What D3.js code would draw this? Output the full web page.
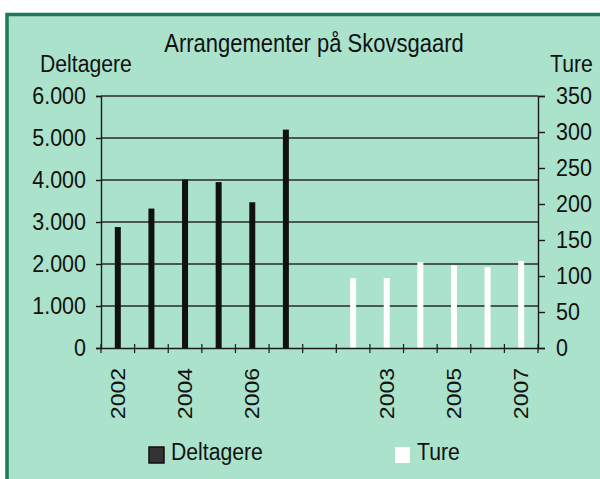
<!DOCTYPE html>
<html>
<head>
<meta charset="utf-8">
<script src="https://cdn.jsdelivr.net/npm/d3@7"></script>
<style>
  body { margin: 0; background: #fff; }
  text { font-family: 'Liberation Sans', Arial, sans-serif; fill: #111; }
</style>
</head>
<body>
<div id="chart"></div>
<script>
var years = ['2002', '2003', '2004', '2005', '2006', '2007'];
var deltagere = [2880, 3320, 4010, 3950, 3470, 5200];
var ture = [97, 97, 119, 115, 112, 121];
var categories = years.concat([''], years);
var left_ticks = [0, 1000, 2000, 3000, 4000, 5000, 6000];
var right_ticks = [0, 50, 100, 150, 200, 250, 300, 350];

var chart_width = 600;
var chart_height = 479;
var plot_left = 101;
var plot_right = 538;
var plot_top = 96;
var plot_bottom = 348;
var stretch = 1.15; // the scan is a bit taller than wide
var bar_w = 6;

var svg = d3.select('#chart')
    .append('svg')
    .attr('width', chart_width)
    .attr('height', chart_height);

// frame
svg.append('rect')
    .attr('x', 7)
    .attr('y', 14.5)
    .attr('width', 620)
    .attr('height', 500)
    .attr('fill', '#aae2cb')
    .attr('stroke', '#1d7a55')
    .attr('stroke-width', 3.5);

var dk = d3.formatLocale({decimal: ',', thousands: '.', grouping: [3], currency: ['', '']});
var fmt = dk.format(',');

var x_scale = d3.scaleBand()
    .domain(d3.range(categories.length))
    .range([plot_left, plot_right]);

var y_left = d3.scaleLinear()
    .domain([0, 6000])
    .range([plot_bottom, plot_top]);

var y_right = d3.scaleLinear()
    .domain([0, 350])
    .range([plot_bottom, plot_top]);

function label(x, y, txt, size, anchor) {
    return svg.append('g')
        .attr('transform', 'translate(' + x + ',' + y + ') scale(1,' + stretch + ')')
        .append('text')
        .attr('text-anchor', anchor)
        .style('font-size', size + 'px')
        .text(txt);
}

// gridlines
svg.append('g')
    .selectAll('line')
    .data(left_ticks.slice(1))
    .enter()
    .append('line')
    .attr('x1', plot_left)
    .attr('x2', plot_right)
    .attr('y1', function (d) { return y_left(d); })
    .attr('y2', function (d) { return y_left(d); })
    .attr('stroke', '#2a2a2a')
    .attr('stroke-width', 1.4);

// bars
svg.append('g')
    .selectAll('rect')
    .data(deltagere)
    .enter()
    .append('rect')
    .attr('x', function (d, i) { return x_scale(i) + x_scale.bandwidth() / 2 - bar_w / 2; })
    .attr('y', function (d) { return y_left(d); })
    .attr('width', bar_w)
    .attr('height', function (d) { return plot_bottom - y_left(d); })
    .attr('fill', '#111');

svg.append('g')
    .selectAll('rect')
    .data(ture)
    .enter()
    .append('rect')
    .attr('x', function (d, i) { return x_scale(i + 7) + x_scale.bandwidth() / 2 - bar_w / 2; })
    .attr('y', function (d) { return y_right(d); })
    .attr('width', bar_w)
    .attr('height', function (d) { return plot_bottom - y_right(d); })
    .attr('fill', '#fff');

// axes
var left_axis = d3.axisLeft(y_left).tickValues(left_ticks).tickSize(5).tickFormat('');
svg.append('g')
    .attr('transform', 'translate(' + plot_left + ',0)')
    .call(left_axis);

var right_axis = d3.axisRight(y_right).tickValues(right_ticks).tickSize(7).tickFormat('');
svg.append('g')
    .attr('transform', 'translate(' + plot_right + ',0)')
    .call(right_axis);

var x_axis = d3.axisBottom(x_scale).tickValues([]).tickSizeOuter(0);
svg.append('g')
    .attr('transform', 'translate(0,' + plot_bottom + ')')
    .call(x_axis);

svg.selectAll('.domain, .tick line')
    .attr('stroke', '#1a1a1a')
    .attr('stroke-width', 1.4);

// category ticks crossing the axis
svg.append('g')
    .selectAll('line')
    .data(d3.range(categories.length + 1))
    .enter()
    .append('line')
    .attr('x1', function (d) { return plot_left + d * x_scale.step(); })
    .attr('x2', function (d) { return plot_left + d * x_scale.step(); })
    .attr('y1', plot_bottom - 4)
    .attr('y2', plot_bottom + 5)
    .attr('stroke', '#1a1a1a')
    .attr('stroke-width', 1.2);

// tick labels
left_ticks.forEach(function (d) {
    label(86, y_left(d) + 7.5, fmt(d), 21.5, 'end');
});
right_ticks.forEach(function (d) {
    label(556, y_right(d) + 7.5, d, 21.5, 'start');
});

categories.forEach(function (c, i) {
    if (i % 2 !== 0) return;
    svg.append('g')
        .attr('transform', 'translate(' + (x_scale(i) + x_scale.bandwidth() / 2) + ',368) scale(1,' + stretch + ') rotate(-90)')
        .append('text')
        .attr('text-anchor', 'end')
        .attr('dy', '0.36em')
        .style('font-size', '20px')
        .text(c);
});

// titles
label(314, 52, 'Arrangementer på Skovsgaard', 22, 'middle');
label(40, 72, 'Deltagere', 21.2, 'start');
label(550, 72, 'Ture', 21.2, 'start');

// legend
svg.append('rect')
    .attr('x', 149).attr('y', 447)
    .attr('width', 15).attr('height', 16)
    .attr('fill', '#333').attr('stroke', '#111').attr('stroke-width', 1.5);
label(171, 460, 'Deltagere', 21.2, 'start');

svg.append('rect')
    .attr('x', 395).attr('y', 447)
    .attr('width', 15).attr('height', 16)
    .attr('fill', '#fff');
label(417, 460, 'Ture', 21.2, 'start');
</script>
</body>
</html>
